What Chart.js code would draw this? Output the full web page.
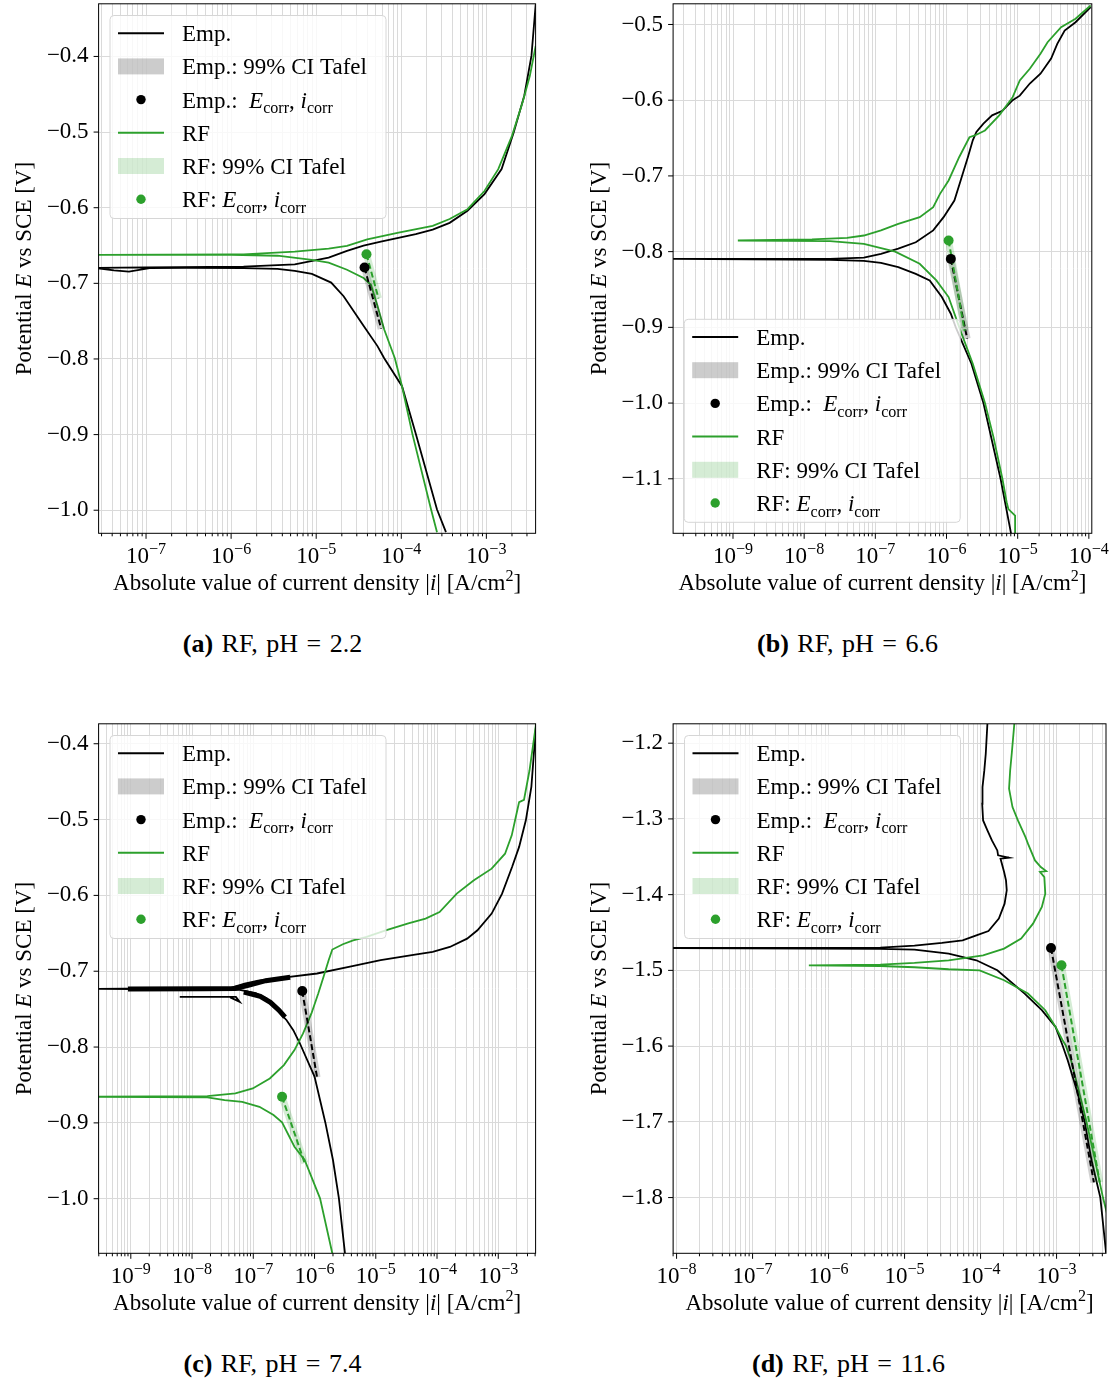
<!DOCTYPE html>
<html>
<head>
<meta charset="utf-8">
<script src="https://cdn.jsdelivr.net/npm/chart.js@4.4.1/dist/chart.umd.min.js"></script>
<style>
  html, body { margin: 0; padding: 0; background: #fff; }
  #page { position: relative; width: 1111px; height: 1379px; overflow: hidden; }
  canvas { position: absolute; }
  .cap { position: absolute; text-align: center; font: 26px "Liberation Serif", serif; line-height: 28px; word-spacing: 2px; color: #000; }
</style>
</head>
<body>
<div id="page">
  <canvas id="chartA" width="556" height="645" style="left:0;top:-20px"></canvas>
  <canvas id="chartB" width="555" height="645" style="left:556px;top:-20px"></canvas>
  <canvas id="chartC" width="556" height="640" style="left:0;top:700px"></canvas>
  <canvas id="chartD" width="555" height="640" style="left:556px;top:700px"></canvas>
  <div class="cap" style="left:0;width:545px;top:630px"><b>(a)</b> RF, pH = 2.2</div>
  <div class="cap" style="left:556px;width:583px;top:630px"><b>(b)</b> RF, pH = 6.6</div>
  <div class="cap" style="left:0;width:545px;top:1350px"><b>(c)</b> RF, pH = 7.4</div>
  <div class="cap" style="left:556px;width:585px;top:1350px"><b>(d)</b> RF, pH = 11.6</div>
</div>
<script>
// polarisation curves: [|i| (A/cm2), E (V vs SCE)], cathodic end -> Ecorr -> anodic end
// a null entry breaks the line

// (a) pH 2.2
const xRangeA = [2.77e-8, 3.79e-3];
const yRangeA = [-1.0305, -0.3304];
const empA = [
  [3.35e-4, -1.029], [2.63e-4, -0.999], [1.48e-4, -0.899], [1.02e-4, -0.836],
  [6.3e-5, -0.799], [5.25e-5, -0.783], [3.6e-5, -0.756], [2.1e-5, -0.717],
  [1.5e-5, -0.699], [8.9e-6, -0.6876], [5.6e-6, -0.6836], [3.5e-6, -0.681],
  [1.4e-6, -0.680], [3.0e-7, -0.6795], [1.1e-7, -0.680], [6.3e-8, -0.6845],
  [4.2e-8, -0.683], [2.5e-8, -0.6795],
  [1.0e-7, -0.679], [1.4e-6, -0.678], [5.6e-6, -0.675], [1.4e-5, -0.666],
  [2.3e-5, -0.657], [3.6e-5, -0.650], [5.75e-5, -0.645], [1.48e-4, -0.635],
  [2.34e-4, -0.629], [3.7e-4, -0.620], [6.0e-4, -0.604], [9.5e-4, -0.582],
  [1.51e-3, -0.549], [2.09e-3, -0.501], [2.79e-3, -0.452], [3.39e-3, -0.399],
  [3.8e-3, -0.331]
];
const rfA = [
  [2.63e-4, -1.029], [2.24e-4, -0.999], [1.35e-4, -0.899], [1.02e-4, -0.836],
  [8.4e-5, -0.799], [6.3e-5, -0.761], [5.25e-5, -0.730], [4.4e-5, -0.702],
  [3.6e-5, -0.693], [2.3e-5, -0.682], [1.4e-5, -0.6726], [8.9e-6, -0.669],
  [3.5e-6, -0.6635], [1.0e-6, -0.6625], [2.5e-8, -0.6625],
  [1.0e-6, -0.6618], [1.4e-6, -0.6616], [5.6e-6, -0.658], [1.4e-5, -0.654],
  [2.3e-5, -0.6506], [3.98e-5, -0.6418], [9.3e-5, -0.633], [2.34e-4, -0.624],
  [3.7e-4, -0.615], [6.0e-4, -0.602], [9.5e-4, -0.578], [1.38e-3, -0.549],
  [2.0e-3, -0.505], [2.66e-3, -0.461], [3.24e-3, -0.426], [3.8e-3, -0.386]
];
const empNoiseA = [];
const empCorrA = [3.7e-5, -0.679];
const rfCorrA = [3.9e-5, -0.6616];
const empTafelA = [[3.7e-5, -0.679], [5.8e-5, -0.76]];
const rfTafelA = [[3.9e-5, -0.6616], [5.4e-5, -0.72]];

// (b) pH 6.6
const xRangeB = [1.44e-10, 1.1e-4];
const yRangeB = [-1.172, -0.4727];
const empB = [
  [8.1e-6, -1.173], [5.75e-6, -1.100], [3.3e-6, -1.000], [2.24e-6, -0.948],
  [1.35e-6, -0.900], [1.15e-6, -0.882], [8.6e-7, -0.860], [5.8e-7, -0.838],
  [3.7e-7, -0.8294], [2.1e-7, -0.8206], [1.2e-7, -0.8148], [6.9e-8, -0.8122],
  [2.3e-8, -0.811], [1.0e-10, -0.8096],
  [2.3e-8, -0.8095], [6.9e-8, -0.808], [1.2e-7, -0.803], [2.1e-7, -0.796],
  [3.7e-7, -0.7876], [6.5e-7, -0.772], [9.1e-7, -0.7545], [1.29e-6, -0.7325],
  [1.58e-6, -0.706], [2.0e-6, -0.675], [2.34e-6, -0.653], [2.63e-6, -0.642],
  [3.3e-6, -0.631], [4.37e-6, -0.620], [6.1e-6, -0.614], [8.5e-6, -0.600],
  [1.07e-5, -0.594], [1.48e-5, -0.578], [2.09e-5, -0.565], [2.95e-5, -0.545],
  [3.6e-5, -0.5255], [4.57e-5, -0.508], [6.5e-5, -0.497], [1.06e-4, -0.477]
];
const rfB = [
  [9.3e-6, -1.173], [9.2e-6, -1.1486], [7.4e-6, -1.140], [7.0e-6, -1.131],
  [6.1e-6, -1.100], [4.57e-6, -1.045], [3.47e-6, -1.000], [2.34e-6, -0.948],
  [1.51e-6, -0.900], [1.07e-6, -0.860], [7.2e-7, -0.838], [4.2e-7, -0.816],
  [1.9e-7, -0.800], [6.9e-8, -0.7897], [2.3e-8, -0.786], [1.17e-9, -0.7853],
  [1.29e-8, -0.7838], [4.0e-8, -0.7818], [6.9e-8, -0.7787], [1.2e-7, -0.772],
  [2.1e-7, -0.7633], [4.2e-7, -0.7545], [6.5e-7, -0.7413], [8.1e-7, -0.7237],
  [1.07e-6, -0.706], [1.51e-6, -0.675], [2.1e-6, -0.6489], [2.5e-6, -0.6466],
  [3.47e-6, -0.640], [5.5e-6, -0.620], [8.5e-6, -0.596], [1.07e-5, -0.574],
  [1.48e-5, -0.5585], [2.09e-5, -0.5387], [2.63e-5, -0.5234], [4.07e-5, -0.5036],
  [6.5e-5, -0.4925], [1.06e-4, -0.4749]
];
const empNoiseB = [];
const empCorrB = [1.15e-6, -0.8096];
const rfCorrB = [1.07e-6, -0.7853];
const empTafelB = [[1.15e-6, -0.8096], [1.95e-6, -0.915]];
const rfTafelB = [[1.07e-6, -0.7853], [1.8e-6, -0.905]];

// (c) pH 7.4
const xRangeC = [2.98e-10, 4.07e-3];
const yRangeC = [-1.072, -0.3737];
const empC = [
  [3.14e-6, -1.072], [2.5e-6, -0.9995], [2.0e-6, -0.949], [1.5e-6, -0.8994],
  [1.0e-6, -0.839], [5.75e-7, -0.795], [4.5e-7, -0.7777], [3.5e-7, -0.7646],
  [2.75e-7, -0.7557], [2.14e-7, -0.747], [1.66e-7, -0.736], [1.1e-7, -0.729],
  [6.0e-8, -0.7245], [2.0e-10, -0.7233],
  [4.4e-8, -0.7215], [7.2e-8, -0.7165], [1.2e-7, -0.7125], [3.1e-7, -0.7085],
  [1.1e-6, -0.703], [3.8e-6, -0.694], [1.2e-5, -0.6855], [4.37e-5, -0.678],
  [8.5e-5, -0.6746], [1.62e-4, -0.668], [3.1e-4, -0.657], [4.57e-4, -0.646],
  [7.8e-4, -0.624], [1.15e-3, -0.598], [1.68e-3, -0.5626], [2.19e-3, -0.536],
  [2.82e-3, -0.501], [3.47e-3, -0.457], [4.07e-3, -0.3825], [4.4e-3, -0.35],
  null,
  [6.3e-9, -0.7338], [5.2e-8, -0.7338], [6.0e-8, -0.7405], [4.2e-8, -0.7345]
];
// scatter of the measured current around Ecorr, drawn as a wide trace
const empNoiseC = [
  [9e-10, -0.7236], [1.5e-8, -0.7232], [5.0e-8, -0.7228], [8.0e-8, -0.719],
  [1.6e-7, -0.7125], [4.0e-7, -0.708],
  null,
  [7.0e-8, -0.7275], [1.3e-7, -0.733], [1.9e-7, -0.741], [2.6e-7, -0.751], [3.3e-7, -0.7605]
];
const rfC = [
  [1.95e-6, -1.072], [1.23e-6, -0.9995], [6.9e-7, -0.949], [4.7e-7, -0.9315],
  [2.95e-7, -0.8994], [2.14e-7, -0.8897], [1.26e-7, -0.8788], [6.6e-8, -0.8722],
  [3.4e-8, -0.870], [1.78e-8, -0.8664], [2.0e-10, -0.8656],
  [1.78e-8, -0.8647], [5.1e-8, -0.8612], [9.8e-8, -0.8546], [1.86e-7, -0.8414],
  [3.16e-7, -0.8238], [4.7e-7, -0.804], [6.5e-7, -0.782], [8.9e-7, -0.7557],
  [1.15e-6, -0.7294], [1.4e-6, -0.7075], [1.7e-6, -0.6855], [1.95e-6, -0.6714],
  [2.9e-6, -0.6644], [4.27e-6, -0.6592], [7.1e-6, -0.6548], [1.45e-5, -0.646],
  [3.4e-5, -0.637], [6.5e-5, -0.6306], [1.1e-4, -0.622], [2.1e-4, -0.5976],
  [4.0e-4, -0.580], [7.8e-4, -0.5647], [1.29e-3, -0.545], [1.66e-3, -0.5208],
  [2.04e-3, -0.488], [2.19e-3, -0.477], [2.63e-3, -0.474], [3.24e-3, -0.435],
  [4.07e-3, -0.378], [4.4e-3, -0.35]
];
const empCorrC = [6.3e-7, -0.726];
const rfCorrC = [2.95e-7, -0.8656];
const empTafelC = [[6.3e-7, -0.726], [1.1e-6, -0.84]];
const rfTafelC = [[2.95e-7, -0.8656], [6.9e-7, -0.953]];

// (d) pH 11.6
const xRangeD = [9.0e-9, 4.47e-3];
const yRangeD = [-1.8736, -1.1744];
const empD = [
  [4.49e-3, -1.8736], [3.76e-3, -1.7997], [2.88e-3, -1.7505], [2.34e-3, -1.6995],
  [1.9e-3, -1.6625], [1.4e-3, -1.6186], [1.2e-3, -1.5992], [9.7e-4, -1.5747],
  [6.4e-4, -1.5526], [3.8e-4, -1.5306], [1.66e-4, -1.4999], [8.8e-5, -1.4867],
  [3.8e-5, -1.4779], [1.35e-5, -1.4726], [4.8e-6, -1.4717], [5.0e-9, -1.4704],
  [4.8e-6, -1.4700], [1.35e-5, -1.4673], [3.1e-5, -1.4638], [5.8e-5, -1.4603],
  [8.8e-5, -1.4537], [1.27e-4, -1.448], [1.74e-4, -1.4317], [2.07e-4, -1.4119],
  [2.21e-4, -1.3943], [2.16e-4, -1.3811], [2.04e-4, -1.3702], [1.83e-4, -1.3525],
  [2.37e-4, -1.3512], [1.7e-4, -1.3481], [1.66e-4, -1.3416], [1.41e-4, -1.3284],
  [1.23e-4, -1.3152], [1.08e-4, -1.302], [1.05e-4, -1.280], [1.06e-4, -1.258],
  [1.12e-4, -1.236], [1.17e-4, -1.214], [1.23e-4, -1.1744]
];
const rfD = [
  [4.6e-3, -1.8209], [4.07e-3, -1.7997], [3.2e-3, -1.7505], [2.47e-3, -1.6995],
  [2.0e-3, -1.6625], [1.55e-3, -1.6186], [1.32e-3, -1.5992], [1.2e-3, -1.5922],
  [9.7e-4, -1.5747], [7.1e-4, -1.5526], [4.2e-4, -1.5306], [2.04e-4, -1.513],
  [9.7e-5, -1.4999], [3.8e-5, -1.4985], [1.35e-5, -1.4959], [4.8e-6, -1.4942],
  [5.5e-7, -1.4933],
  [4.8e-6, -1.4924], [1.35e-5, -1.4902], [3.8e-5, -1.4867], [1.08e-4, -1.4801],
  [2.04e-4, -1.4713], [3.42e-4, -1.458], [4.9e-4, -1.4383], [6.4e-4, -1.4163],
  [7.1e-4, -1.3987], [6.9e-4, -1.3768], [6.05e-4, -1.370], [7.3e-4, -1.3689],
  [6.2e-4, -1.3636], [5.2e-4, -1.3548], [4.2e-4, -1.3327], [3.9e-4, -1.324],
  [3.1e-4, -1.302], [2.63e-4, -1.2844], [2.37e-4, -1.2602], [2.45e-4, -1.236],
  [2.57e-4, -1.214], [2.78e-4, -1.1744]
];
const empNoiseD = [];
const empCorrD = [8.45e-4, -1.4704];
const rfCorrD = [1.16e-3, -1.4933];
const empTafelD = [[8.45e-4, -1.4704], [3.1e-3, -1.78]];
const rfTafelD = [[1.16e-3, -1.4933], [3.7e-3, -1.78]];

const GREEN = '#2ca02c';
const SERIF = '"Liberation Serif", "DejaVu Serif", serif';
const FS = 23;

// plot-area box of each canvas, in canvas pixels
const panels = [
  { id: 'chartA', x: xRangeA, y: yRangeA, emp: empA, noise: empNoiseA, rf: rfA, empCorr: empCorrA, rfCorr: rfCorrA,
    empTafel: empTafelA, rfTafel: rfTafelA, area: { left: 98.6, right: 535.6, top: 23.3, bottom: 553.3 }, legend: 'top' },
  { id: 'chartB', x: xRangeB, y: yRangeB, emp: empB, noise: empNoiseB, rf: rfB, empCorr: empCorrB, rfCorr: rfCorrB,
    empTafel: empTafelB, rfTafel: rfTafelB, area: { left: 117.1, right: 535.8, top: 23.3, bottom: 553.3 }, legend: 'bottom' },
  { id: 'chartC', x: xRangeC, y: yRangeC, emp: empC, noise: empNoiseC, rf: rfC, empCorr: empCorrC, rfCorr: rfCorrC,
    empTafel: empTafelC, rfTafel: rfTafelC, area: { left: 98.6, right: 535.6, top: 23.3, bottom: 553.3 }, legend: 'top' },
  { id: 'chartD', x: xRangeD, y: yRangeD, emp: empD, noise: empNoiseD, rf: rfD, empCorr: empCorrD, rfCorr: rfCorrD,
    empTafel: empTafelD, rfTafel: rfTafelD, area: { left: 117.1, right: 552.8, top: 23.3, bottom: 553.3 }, legend: 'top' }
];

const legendItems = [
  { kind: 'line', color: '#000', text: [['Emp.', 'n']] },
  { kind: 'patch', color: 'rgba(0,0,0,0.2)', text: [['Emp.: 99% CI Tafel', 'n']] },
  { kind: 'dot', color: '#000', text: [['Emp.:  ', 'n'], ['E', 'i'], ['corr', 'sub'], [', ', 'n'], ['i', 'i'], ['corr', 'sub']] },
  { kind: 'line', color: GREEN, text: [['RF', 'n']] },
  { kind: 'patch', color: 'rgba(44,160,44,0.2)', text: [['RF: 99% CI Tafel', 'n']] },
  { kind: 'dot', color: GREEN, text: [['RF: ', 'n'], ['E', 'i'], ['corr', 'sub'], [', ', 'n'], ['i', 'i'], ['corr', 'sub']] }
];

function fontFor(style, size) {
  const s = (style === 'sub' || style === 'sup') ? size * 0.7 : size;
  const it = style === 'i' ? 'italic ' : '';
  const b = style === 'b' ? 'bold ' : '';
  return `${it}${b}${s}px ${SERIF}`;
}

// text made of runs: [text, style]
function drawRuns(ctx, runs, x, y, size, align) {
  let w = 0;
  runs.forEach(([t, st]) => { ctx.font = fontFor(st, size); w += ctx.measureText(t).width; });
  let cx = align === 'center' ? x - w / 2 : align === 'right' ? x - w : x;
  ctx.textAlign = 'left';
  ctx.textBaseline = 'alphabetic';
  runs.forEach(([t, st]) => {
    ctx.font = fontFor(st, size);
    const dy = st === 'sub' ? size * 0.24 : st === 'sup' ? -size * 0.4 : 0;
    ctx.fillText(t, cx, y + dy);
    cx += ctx.measureText(t).width;
  });
}

function logTicks(min, max) {
  const out = [];
  for (let e = Math.floor(Math.log10(min)); e <= Math.ceil(Math.log10(max)); e++) {
    for (let k = 1; k <= 9; k++) {
      const v = k * Math.pow(10, e);
      if (v >= min && v <= max) out.push({ value: v, major: k === 1 });
    }
  }
  return out;
}

function linTicks(min, max) {
  const out = [];
  for (let k = Math.ceil(min * 10 - 1e-9); k <= Math.floor(max * 10 + 1e-9); k++) out.push({ value: k / 10 });
  return out;
}

function drawLegend(ctx, x0, y0) {
  const w = 276, h = 203;
  ctx.save();
  ctx.beginPath();
  ctx.roundRect(x0, y0, w, h, 4);
  ctx.fillStyle = 'rgba(255,255,255,0.8)';
  ctx.fill();
  ctx.strokeStyle = '#d6d6d6';
  ctx.lineWidth = 1;
  ctx.stroke();
  legendItems.forEach((it, i) => {
    const cy = y0 + 17.7 + i * 33.2;
    const hx0 = x0 + 8, hx1 = x0 + 54;
    if (it.kind === 'line') {
      ctx.strokeStyle = it.color;
      ctx.lineWidth = 2;
      ctx.beginPath(); ctx.moveTo(hx0, cy); ctx.lineTo(hx1, cy); ctx.stroke();
    } else if (it.kind === 'patch') {
      ctx.fillStyle = it.color;
      ctx.fillRect(hx0, cy - 8, hx1 - hx0, 16);
    } else {
      ctx.fillStyle = it.color;
      ctx.beginPath(); ctx.arc((hx0 + hx1) / 2, cy, 4.7, 0, Math.PI * 2); ctx.fill();
    }
    ctx.fillStyle = '#000';
    drawRuns(ctx, it.text, x0 + 72, cy + 8, FS, 'left');
  });
  ctx.restore();
}

const panelDecor = {
  id: 'panelDecor',
  afterDraw(chart, args, opts) {
    const ctx = chart.ctx;
    const { left, right, top, bottom } = chart.chartArea;
    const xs = chart.scales.x, ys = chart.scales.y;
    ctx.save();
    ctx.strokeStyle = '#000';
    ctx.lineWidth = 1;
    ctx.strokeRect(left, top, right - left, bottom - top);

    // tick marks and decade labels
    ctx.fillStyle = '#000';
    xs.ticks.forEach(t => {
      const px = xs.getPixelForValue(t.value);
      const major = Math.abs(Math.log10(t.value) - Math.round(Math.log10(t.value))) < 1e-6;
      ctx.beginPath(); ctx.moveTo(px, bottom); ctx.lineTo(px, bottom + (major ? 5.5 : 3)); ctx.stroke();
      if (major) {
        const e = Math.round(Math.log10(t.value));
        drawRuns(ctx, [['10', 'n'], [(e < 0 ? '\u2212' : '') + Math.abs(e), 'sup']], px, bottom + 30, FS, 'center');
      }
    });
    ys.ticks.forEach(t => {
      const py = ys.getPixelForValue(t.value);
      ctx.beginPath(); ctx.moveTo(left - 5, py); ctx.lineTo(left, py); ctx.stroke();
    });

    // axis titles
    drawRuns(ctx, [['Absolute value of current density |', 'n'], ['i', 'i'], ['| [A/cm', 'n'], ['2', 'sup'], [']', 'n']],
      (left + right) / 2, bottom + 57, FS, 'center');
    ctx.save();
    ctx.translate(left - 67.5, (top + bottom) / 2);
    ctx.rotate(-Math.PI / 2);
    drawRuns(ctx, [['Potential ', 'n'], ['E', 'i'], [' vs SCE [V]', 'n']], 0, 0, FS, 'center');
    ctx.restore();

    if (opts.legend === 'bottom') drawLegend(ctx, left + 11.1, bottom - 11 - 203);
    else drawLegend(ctx, left + 11.4, top + 11.7);
    ctx.restore();
  }
};

function pts(arr) { return arr.map(p => (p ? { x: p[0], y: p[1] } : { x: null, y: null })); }

function buildDatasets(p) {
  const list = [
    { label: 'Emp.', data: pts(p.emp), showLine: true, borderColor: '#000', borderWidth: 1.8, pointRadius: 0 },
    { label: 'Emp. scatter', data: pts(p.noise), showLine: true, borderColor: '#000', borderWidth: 5, pointRadius: 0 },
    { label: 'RF', data: pts(p.rf), showLine: true, borderColor: GREEN, borderWidth: 1.8, pointRadius: 0 },
    { label: 'Emp.: 99% CI Tafel', data: pts(p.empTafel), showLine: true, borderColor: 'rgba(0,0,0,0.18)', borderWidth: 7, pointRadius: 0 },
    { label: 'RF: 99% CI Tafel', data: pts(p.rfTafel), showLine: true, borderColor: 'rgba(44,160,44,0.2)', borderWidth: 7, pointRadius: 0 },
    { label: 'Emp. Tafel', data: pts(p.empTafel), showLine: true, borderColor: '#000', borderWidth: 2, borderDash: [6, 3], pointRadius: 0 },
    { label: 'RF Tafel', data: pts(p.rfTafel), showLine: true, borderColor: GREEN, borderWidth: 2, borderDash: [6, 3], pointRadius: 0 },
    { label: 'Emp.: Ecorr, icorr', data: pts([p.empCorr]), showLine: false, pointRadius: 5, pointBackgroundColor: '#000', pointBorderWidth: 0 },
    { label: 'RF: Ecorr, icorr', data: pts([p.rfCorr]), showLine: false, pointRadius: 5, pointBackgroundColor: GREEN, pointBorderWidth: 0 }
  ];
  // later entries are drawn on top
  return list.map((d, i) => Object.assign({ order: list.length - i, tension: 0, clip: 0, spanGaps: false }, d));
}

panels.forEach(p => {
  const canvas = document.getElementById(p.id);
  const W = canvas.width, H = canvas.height;
  const a = p.area;
  new Chart(canvas, {
    type: 'scatter',
    data: { datasets: buildDatasets(p) },
    options: {
      responsive: false,
      animation: false,
      events: [],
      layout: { padding: { left: 0, top: a.top, right: W - a.right, bottom: 0 } },
      plugins: { legend: { display: false }, tooltip: { enabled: false }, panelDecor: { legend: p.legend } },
      scales: {
        x: {
          type: 'logarithmic', min: p.x[0], max: p.x[1],
          afterBuildTicks: axis => { axis.ticks = logTicks(p.x[0], p.x[1]); },
          afterFit: axis => { axis.height = H - a.bottom; },
          grid: { color: '#dadada', lineWidth: 1, drawTicks: false },
          border: { display: false },
          ticks: { display: false, autoSkip: false }
        },
        y: {
          type: 'linear', min: p.y[0], max: p.y[1],
          afterBuildTicks: axis => { axis.ticks = linTicks(p.y[0], p.y[1]); },
          afterFit: axis => { axis.width = a.left; },
          grid: { color: '#dadada', lineWidth: 1, drawTicks: false },
          border: { display: false },
          ticks: {
            autoSkip: false, padding: 10, color: '#000',
            font: { family: SERIF, size: FS },
            callback: v => (v < 0 ? '\u2212' : '') + Math.abs(v).toFixed(1)
          }
        }
      }
    },
    plugins: [panelDecor]
  });
});
</script>
</body>
</html>
